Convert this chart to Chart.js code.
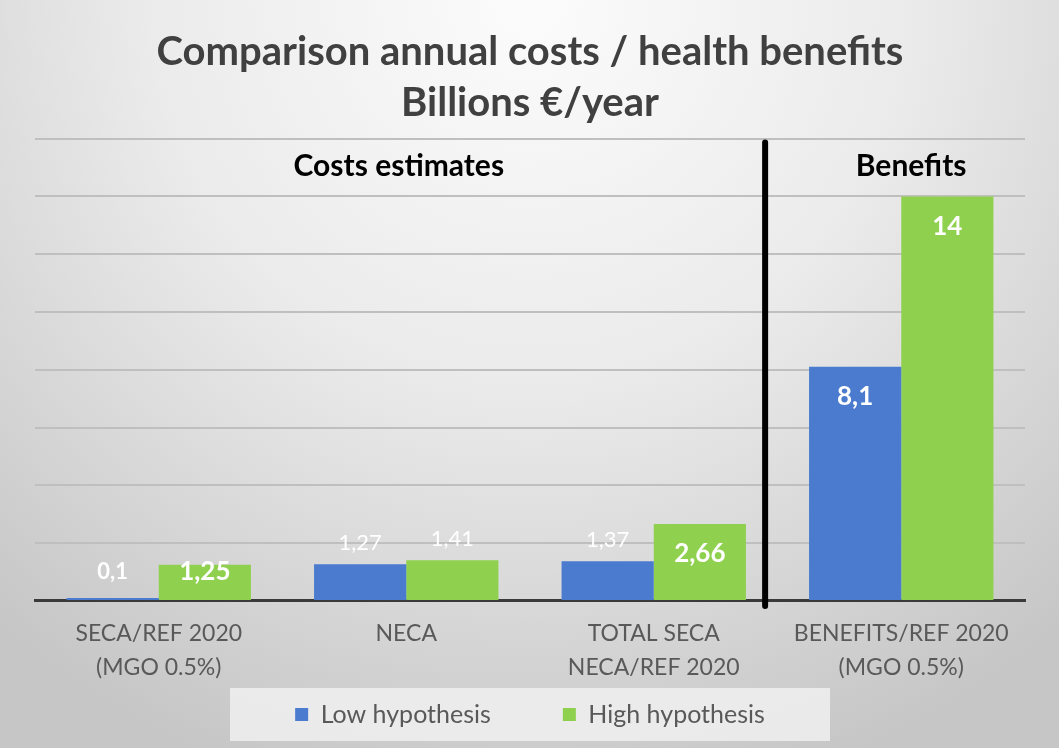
<!DOCTYPE html>
<html>
<head>
<meta charset="utf-8">
<script src="https://cdn.jsdelivr.net/npm/chart.js@4"></script>
<style>
  html, body { margin: 0; padding: 0; background: #d6d6d6; }
  #wrap { width: 1059px; height: 748px; }
</style>
</head>
<body>
<div id="wrap"><canvas id="myChart" width="1059" height="748"></canvas></div>
<script>
// chart data
let categories = [['SECA/REF 2020', '(MGO 0.5%)'], ['NECA'], ['TOTAL SECA', 'NECA/REF 2020'], ['BENEFITS/REF 2020', '(MGO 0.5%)']];
let lowValues = [0.1, 1.27, 1.37, 8.1];
let highValues = [1.25, 1.41, 2.66, 14];
let seriesNames = ['Low hypothesis', 'High hypothesis'];
let yMax = 16;
let yStep = 2;
// which labels sit inside the bar top
let lowInside = [false, false, false, true];
let highInside = [true, false, true, true];
let sections = ['Costs estimates', 'Benefits'];

const FONT = 'Lato, "Open Sans", sans-serif';

// gradient background + legend box
const bgPlugin = {
  id: 'bg',
  beforeDraw(chart) {
    let ctx = chart.ctx;
    let w = chart.width, h = chart.height;
    ctx.save();
    let g = ctx.createRadialGradient(w / 2, 0, 20, w / 2, 0, 820);
    g.addColorStop(0, '#fbfbfb');
    g.addColorStop(0.45, '#ebebeb');
    g.addColorStop(1, '#c6c6c6');
    ctx.fillStyle = g;
    ctx.fillRect(0, 0, w, h);
    let lg = chart.legend;
    ctx.fillStyle = 'rgba(240,240,240,0.85)';
    ctx.fillRect(lg.left + (lg.width / 2) - 300, 688, 600, 53);
    ctx.restore();
  }
};

// value labels, section titles and divider line
const extrasPlugin = {
  id: 'extras',
  afterDatasetsDraw(chart) {
    let ctx = chart.ctx;
    let xs = chart.scales.x, ys = chart.scales.y;
    ctx.save();
    ctx.textAlign = 'center';
    ctx.textBaseline = 'middle';
    let inside = [lowInside, highInside];
    chart.data.datasets.forEach(function (ds, di) {
      let meta = chart.getDatasetMeta(di);
      meta.data.forEach(function (bar, i) {
        let h = bar.base - bar.y;
        let y;
        if (inside[di][i]) {
          y = bar.y + Math.min(30, Math.max(h - 28, 6));
          ctx.font = 'bold 26px ' + FONT;
        } else if (h < 10) {
          // tiny bar: label sits low, like the inside ones
          y = bar.base - 28;
          ctx.font = 'bold 22px ' + FONT;
        } else {
          y = bar.y - 21;
          ctx.font = '22px ' + FONT;
        }
        ctx.fillStyle = '#ffffff';
        ctx.fillText(String(ds.data[i]).replace('.', ','), bar.x, y);
      });
    });

    // divider
    let dx = xs.getPixelForValue(2.45);
    ctx.strokeStyle = '#000000';
    ctx.lineWidth = 6;
    ctx.lineCap = 'round';
    ctx.beginPath();
    ctx.moveTo(dx, ys.getPixelForValue(yMax) + 4);
    ctx.lineTo(dx, ys.getPixelForValue(0) + 5);
    ctx.stroke();

    // section headings
    ctx.fillStyle = '#000000';
    ctx.font = 'bold 30px ' + FONT;
    let ty = ys.getPixelForValue(15.05);
    ctx.fillText(sections[0], xs.getPixelForValue(0.97), ty);
    ctx.fillText(sections[1], xs.getPixelForValue(3.04), ty);
    ctx.restore();
  }
};

const data = {
  labels: categories,
  datasets: [{
    label: seriesNames[0],
    data: lowValues,
    backgroundColor: '#4a7bcf',
    borderWidth: 0
  },
  {
    label: seriesNames[1],
    data: highValues,
    backgroundColor: '#8fd14f',
    borderWidth: 0
  }]
};

const config = {
  type: 'bar',
  data: data,
  options: {
    responsive: false,
    animation: false,
    layout: { padding: { left: 35, right: 34, top: 0, bottom: 11 } },
    datasets: {
      bar: { categoryPercentage: 0.745, barPercentage: 1 }
    },
    scales: {
      x: {
        grid: { display: false },
        border: { display: true, color: '#3a3a3a', width: 3 },
        ticks: {
          color: '#595959',
          font: { family: FONT, size: 23, lineHeight: 1.48 },
          padding: 8,
          maxRotation: 0
        },
        // labels may run into the legend strip, as in the original
        afterFit(scale) { scale.height -= 13; }
      },
      y: {
        min: 0,
        max: yMax,
        ticks: { display: false, stepSize: yStep },
        border: { display: false },
        grid: { color: '#bfbfbf', lineWidth: 2, drawTicks: false }
      }
    },
    plugins: {
      tooltip: { enabled: false },
      title: {
        display: true,
        text: ['Comparison annual costs / health benefits', 'Billions €/year'],
        color: '#404040',
        font: { family: FONT, size: 40, weight: 'bold', lineHeight: 1.27 },
        padding: { top: 27, bottom: 10 }
      },
      legend: {
        position: 'bottom',
        labels: {
          color: '#595959',
          font: { family: FONT, size: 25 },
          boxWidth: 13,
          boxHeight: 13,
          padding: 22,
          generateLabels(chart) {
            let items = Chart.defaults.plugins.legend.labels.generateLabels(chart);
            items.forEach(function (it, i) {
              it.lineWidth = 0;
              if (i === 0) it.text = it.text + '\u2003\u2003\u2002';
            });
            return items;
          }
        }
      }
    }
  },
  plugins: [bgPlugin, extrasPlugin]
};

var myChart = new Chart(document.getElementById('myChart'), config);
</script>
</body>
</html>
